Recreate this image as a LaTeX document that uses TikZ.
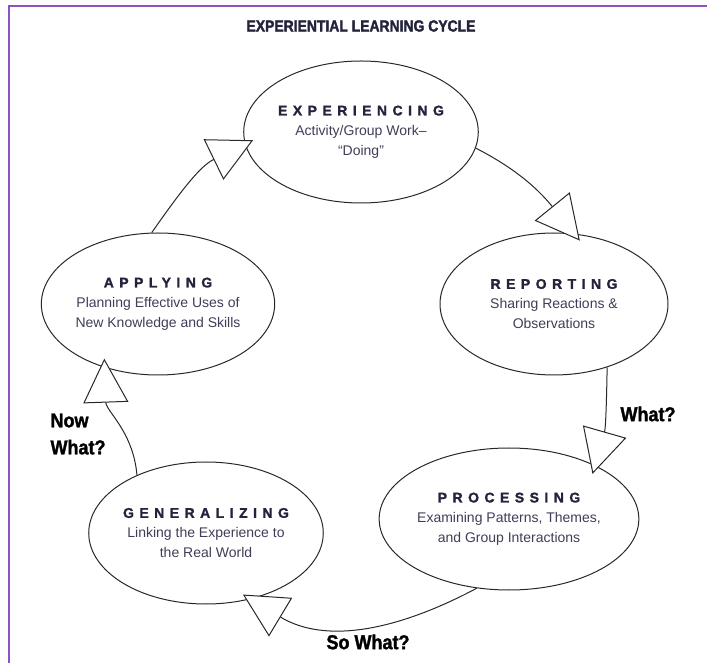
\documentclass[tikz,border=0pt]{standalone}
\usepackage{fontspec}
\setmainfont{Liberation Sans}
\newfontfamily\titlefont[FakeStretch=0.87,BoldFeatures={FakeBold=2}]{Liberation Sans}
\newfontfamily\askfont[FakeStretch=0.9,BoldFeatures={FakeBold=1.5}]{Liberation Sans}
\newfontfamily\headfont[LetterSpace=39,BoldFeatures={FakeBold=1.5}]{Liberation Sans}
\usetikzlibrary{shapes.geometric,arrows.meta}

\definecolor{framec}{RGB}{138,84,196}
\definecolor{linec}{RGB}{40,40,40}
\definecolor{headc}{RGB}{35,35,60}
\definecolor{subc}{RGB}{62,62,88}

\newcommand{\stagehead}[1]{{\headfont\bfseries\color{headc}#1}}

\tikzset{
    stage/.style={ellipse, draw=linec, line width=1pt, minimum width=228pt,
        minimum height=142pt, inner sep=0pt, align=center, text=subc,
        font=\fontsize{14}{20}\selectfont},
    cycarrow/.style={draw=linec, line width=1pt,
        -{Triangle[length=44pt,width=45pt,fill=white]}, shorten >=-9pt},
    ask/.style={font=\askfont\bfseries\fontsize{20}{27}\selectfont, text=black}
}

\begin{document}
\begin{tikzpicture}[x=1pt,y=1pt]
        \useasboundingbox (0,0) rectangle (707,662);
        \draw[framec, line width=2pt] (9,-5) -- (9,656) -- (712,656);

        \node[font=\titlefont\bfseries\fontsize{16}{18}\selectfont, text=headc] (title) at (361,636) {EXPERIENTIAL LEARNING CYCLE};

        \node[stage] (exp) at (361,530) {\stagehead{EXPERIENCING}\\Activity/Group Work–\\“Doing”};
        \node[stage] (rep) at (554,358) {\stagehead{REPORTING}\\Sharing Reactions \&\\Observations};
        \node[stage] (pro) at (509,143) {\stagehead{PROCESSING}\\Examining Patterns, Themes,\\and Group Interactions};
        \node[stage] (gen) at (206,129) {\stagehead{GENERALIZING}\\Linking the Experience to\\the Real World};
        \node[stage] (app) at (158,358) {\stagehead{APPLYING}\\Planning Effective Uses of\\New Knowledge and Skills};

        \draw[cycarrow] (exp.-8) to[out=-27, in=129] (rep.74);
        \draw[cycarrow] (rep.-50) to[out=-91, in=74] (pro.32);
        \draw[cycarrow] (pro.-115) to[out=-152, in=-31] (gen.-56);
        \draw[cycarrow] (gen.140) to[out=95, in=-88] (app.-130);
        \draw[cycarrow] (app.95) to[out=55, in=-154] (exp.186);

        \node[ask] (what) at (648,248) {What?};
        \node[ask, align=left, anchor=west] (nowwhat) at (47,228) {Now\\What?};
        \node[ask] (sowhat) at (368,20) {So What?};
    \end{tikzpicture}
\end{document}
